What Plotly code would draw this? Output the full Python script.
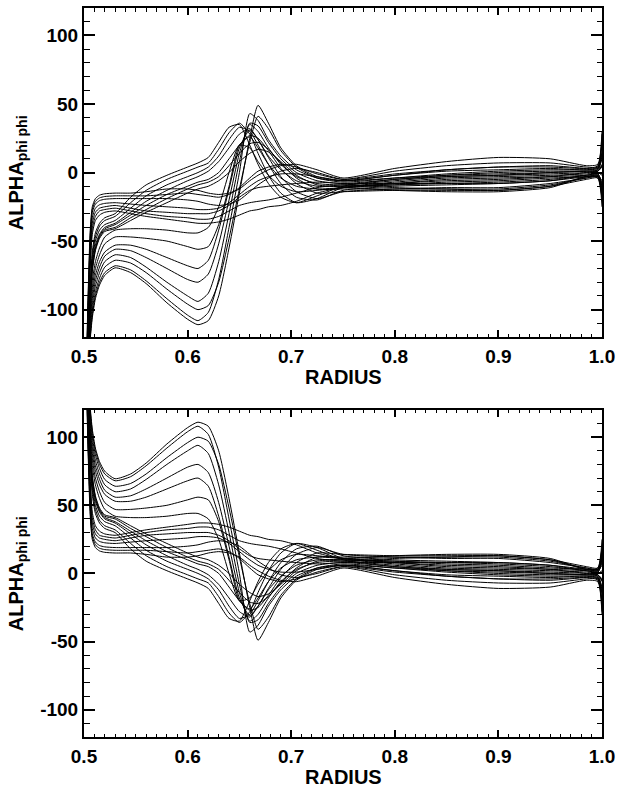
import plotly.graph_objects as go

FONT = "Liberation Sans, Arial, Helvetica, sans-serif"

# Radius sample points (shared by all curves)
radius = [0.500, 0.502, 0.504, 0.506, 0.508, 0.511, 0.515, 0.520, 0.530, 0.545,
          0.560, 0.580, 0.600, 0.610, 0.620, 0.630, 0.640, 0.650, 0.660, 0.668,
          0.678, 0.690, 0.705, 0.725, 0.750, 0.800, 0.850, 0.900, 0.950, 0.985,
          0.996, 1.000]

# Upper panel curves (ALPHA_phi phi)
d1 = [-200, -190, -150, -122, -106, -92, -82, -75, -69.5, -73, -81, -95, -107, -111, -108, -90,
      -55, -15, 25, 49, 36, 18, 5, -3, -6, -2, 2, 4, 4, 3, 5, 28]
d2 = [-200, -188, -148, -120, -104, -90, -80, -73, -68, -71, -79, -92, -104, -108, -102, -78,
      -40, 0, 43, 38, 24, 12, 2, -4, -6, -2, 1, 2, 3, 2, 4, 22]
d3 = [-200, -185, -145, -117, -100, -87, -77, -69, -64, -66, -73, -85, -96, -100, -97, -80,
      -48, -12, 22, 41, 32, 16, 4, -4, -7, -4, -1, 1, 2, 2, 3, 15]
d4 = [-200, -182, -140, -112, -96, -83, -73, -65, -60, -62, -69, -80, -90, -94, -88, -65,
      -30, 8, 36, 34, 22, 10, 0, -6, -8, -5, -2, 0, 1, 1, 2, 10]
d5 = [-200, -180, -136, -108, -92, -79, -69, -61, -56, -57, -62, -70, -78, -80, -74, -52,
      -20, 14, 35, 30, 18, 6, -3, -8, -9, -6, -3, -2, -1, 0, 1, 5]
d6 = [-200, -178, -132, -104, -88, -75, -65, -58, -53, -53, -56, -62, -68, -70, -64, -42,
      -12, 18, 31, 24, 12, 2, -6, -10, -10, -7, -4, -3, -2, -1, 0, -2]
d7 = [-200, -175, -128, -100, -84, -70, -60, -52, -47, -47, -48, -50, -54, -56, -54, -38,
      -10, 20, 26, 18, 6, -4, -10, -12, -11, -8, -5, -4, -3, -2, -1, -8]
d8 = [-200, -172, -124, -96, -79, -65, -55, -47, -42, -41, -41, -42, -44, -44, -40, -25,
      0, 20, 18, 8, -2, -10, -14, -13, -11, -9, -7, -6, -4, -3, -2, -14]

h1 = [-200, -170, -118, -82, -58, -44, -37, -33, -30, -18, -9, -2, 4, 7, 11, 22,
      33, 35, 20, 6, -8, -18, -22, -17, -10, -5, -3, -2, 0, 1, 2, 12]
h2 = [-200, -171, -120, -85, -61, -47, -39, -35, -32, -22, -13, -5, 1, 4, 7, 17,
      29, 36, 28, 14, -2, -15, -22, -19, -11, -8, -6, -5, -3, 0, 1, 6]
h3 = [-200, -172, -122, -88, -64, -50, -42, -38, -35, -26, -17, -9, -3, 0, 4, 12,
      24, 33, 30, 20, 6, -8, -18, -20, -13, -10, -9, -8, -6, -3, -2, -6]
h4 = [-200, -173, -124, -90, -67, -53, -45, -40, -37, -29, -21, -13, -6, -3, 1, 8,
      18, 28, 32, 24, 11, -3, -14, -19, -14, -12, -11, -11, -8, -4, -3, -12]
h5 = [-200, -174, -126, -92, -69, -55, -46, -41, -38, -31, -24, -16, -10, -7, -5, 0,
      10, 20, 27, 25, 16, 3, -8, -15, -14, -13, -13, -13, -10, -5, -4, -18]
h6 = [-200, -175, -127, -94, -71, -56, -47, -42, -40, -33, -27, -19, -12, -9, -7, -3,
      5, 14, 21, 22, 17, 7, -4, -12, -12, -12, -12, -12, -9, -4, -3, -16]
h7 = [-200, -176, -128, -95, -72, -57, -48, -43, -41, -35, -29, -22, -15, -12, -10, -6,
      0, 8, 14, 17, 15, 8, -2, -9, -10, -9, -8, -7, -5, -2, -1, -10]

f1 = [-200, -150, -88, -42, -25, -19, -16.5, -15.5, -15, -15, -14, -12, -12, -13, -15, -16,
      -15, -12, -6, -2, 2, 5, 6, 2, -4, 3, 8, 11, 10, 5, 6, 30]
f2 = [-200, -155, -92, -46, -27, -21, -18.5, -17.5, -17, -17, -17, -16, -15, -16, -17, -18,
      -16, -11, -4, 1, 4, 6, 4, -1, -5, 1, 5, 7, 7, 4, 4, 20]
f3 = [-200, -158, -96, -50, -29, -23, -20.5, -19.5, -19, -19, -19, -19, -20, -21, -23, -24,
      -23, -20, -14, -9, -4, 1, 3, 0, -5, -1, 2, 4, 5, 3, 3, 14]
f4 = [-200, -160, -100, -55, -33, -26, -23.5, -22.5, -22, -23, -24, -25, -26, -27, -27, -26,
      -22, -16, -10, -6, -3, -1, -1, -3, -6, -4, -2, -1, 0, 1, 1, 4]
f5 = [-200, -163, -104, -60, -37, -29, -26, -25, -24, -26, -28, -29, -30, -30, -30, -28,
      -24, -18, -13, -11, -10, -9, -8, -7, -8, -8, -8, -8, -6, -2, -2, -10]
f6 = [-200, -166, -108, -65, -41, -32, -28, -27, -26, -28, -30, -32, -33, -34, -34, -32,
      -28, -24, -22, -21, -20, -18, -15, -11, -9, -11, -12, -13, -10, -3, -3, -20]
f7 = [-200, -168, -112, -70, -45, -35, -31, -29, -28, -30, -32, -34, -36, -37, -37, -36,
      -34, -31, -28, -27, -25, -24, -21, -15, -11, -13, -14, -14, -11, -3, -4, -25]

upper_curves = [d1, d2, d3, d4, d5, d6, d7, d8, h1, h2, h3, h4, h5, h6, h7,
                f1, f2, f3, f4, f5, f6, f7]
# Lower panel is the mirror image of the upper panel
lower_curves = [[-v for v in c] for c in upper_curves]

x_ticks = [0.5, 0.6, 0.7, 0.8, 0.9, 1.0]
x_ticktext = ["0.5", "0.6", "0.7", "0.8", "0.9", "1.0"]
y_ticks = [-100, -50, 0, 50, 100]
y_ticktext = ["-100", "-50", "0", "50", "100"]

fig = go.Figure()
line_style = dict(color="black", width=1, shape="spline", smoothing=0.6)
for c in upper_curves:
    fig.add_trace(go.Scatter(x=radius, y=c, mode="lines", line=line_style,
                             xaxis="x", yaxis="y", showlegend=False, hoverinfo="skip"))
for c in lower_curves:
    fig.add_trace(go.Scatter(x=radius, y=c, mode="lines", line=line_style,
                             xaxis="x2", yaxis="y2", showlegend=False, hoverinfo="skip"))

tickfont = dict(family=FONT, size=19, color="black", weight="bold")


def xaxis(anchor):
    return dict(range=[0.5, 1.0], tickvals=x_ticks, ticktext=x_ticktext, anchor=anchor,
                domain=[0, 1], showline=True, linecolor="black", linewidth=2,
                mirror="allticks", ticks="inside", ticklen=7, tickwidth=1.5,
                tickcolor="black", showgrid=False, zeroline=False, tickfont=tickfont,
                ticklabelstandoff=1,
                minor=dict(dtick=0.01, tick0=0.5, ticks="inside", ticklen=3.5,
                           tickwidth=1, tickcolor="black", showgrid=False))


def yaxis(anchor, domain):
    return dict(range=[-120, 120], tickvals=y_ticks, ticktext=y_ticktext, anchor=anchor,
                domain=domain, showline=True, linecolor="black", linewidth=2,
                mirror="allticks", ticks="inside", ticklen=11, tickwidth=1.5,
                tickcolor="black", showgrid=False, zeroline=False, tickfont=tickfont,
                ticklabelstandoff=0,
                minor=dict(dtick=10, tick0=0, ticks="inside", ticklen=5.5,
                           tickwidth=1, tickcolor="black", showgrid=False))


top_dom = [0.5486, 1.0]
bot_dom = [0.0, 0.4487]

title_font = dict(family=FONT, size=20, color="black", weight="bold")
annotations = []
for dom in (top_dom, bot_dom):
    annotations.append(dict(text="<b>RADIUS</b>", xref="paper", yref="paper",
                            x=0.5, y=dom[0] - 0.055, xanchor="center", yanchor="middle",
                            showarrow=False, font=title_font))
    annotations.append(dict(text="<b>ALPHA<sub>phi phi</sub></b>", xref="paper", yref="paper",
                            x=-0.128, y=(dom[0] + dom[1]) / 2, xanchor="center",
                            yanchor="middle", textangle=-90, showarrow=False,
                            font=title_font))

fig.update_layout(
    width=621, height=787,
    margin=dict(l=84, r=15, t=6, b=50),
    paper_bgcolor="white", plot_bgcolor="white",
    xaxis=xaxis("y"), yaxis=yaxis("x", top_dom),
    xaxis2=xaxis("y2"), yaxis2=yaxis("x2", bot_dom),
    annotations=annotations,
    showlegend=False,
)

fig.write_html("out.html")
